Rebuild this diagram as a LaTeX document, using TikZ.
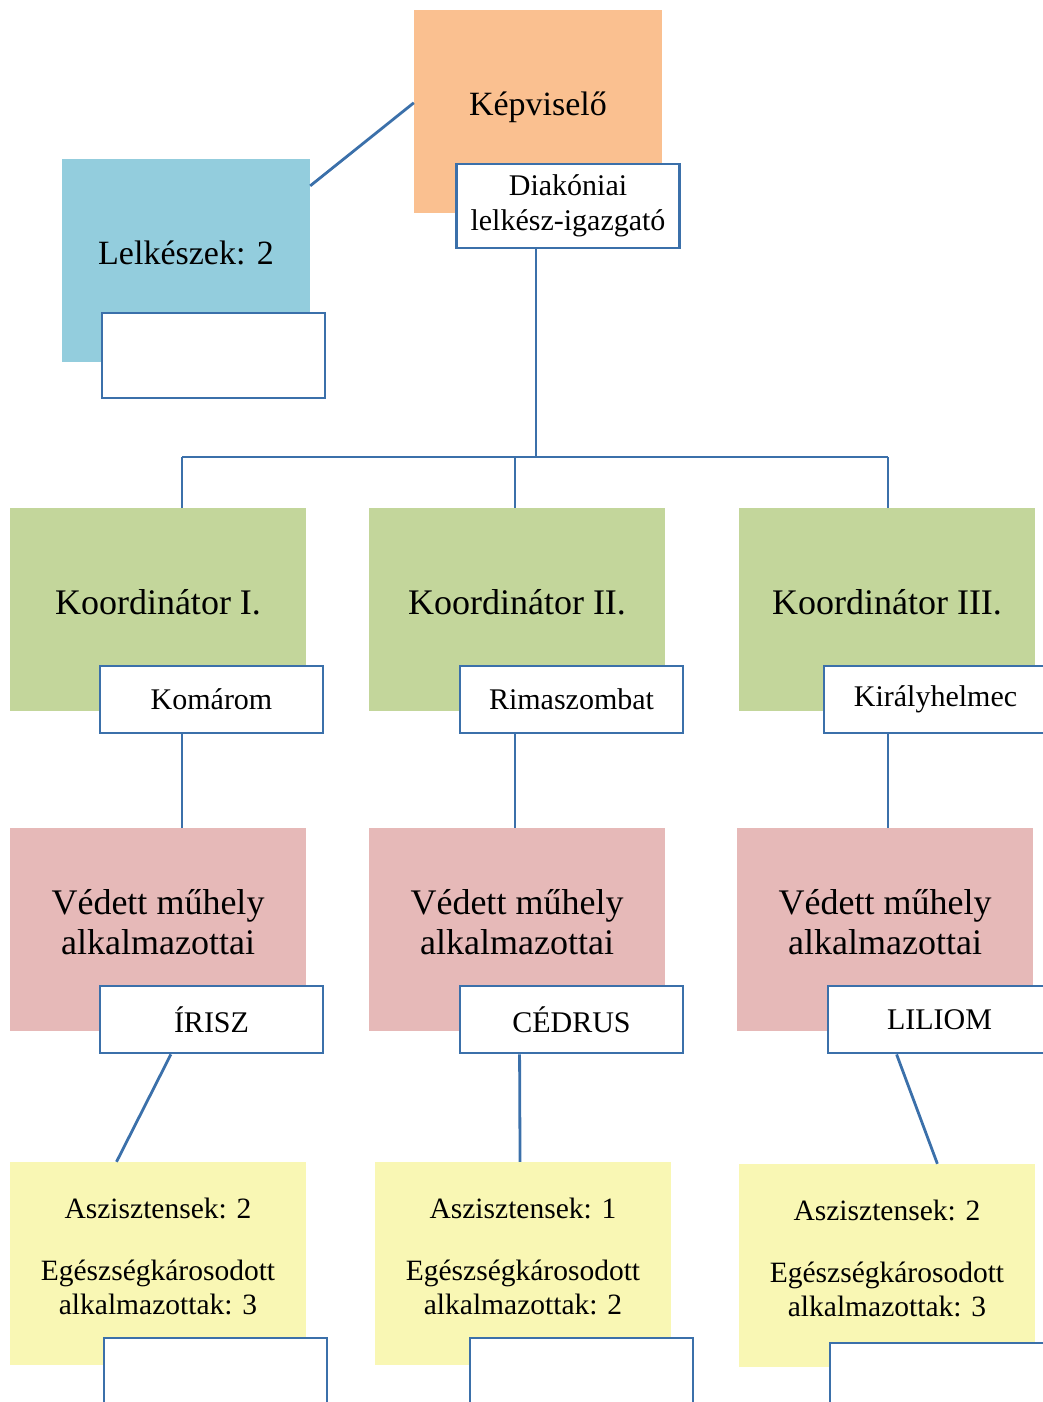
\documentclass[tikz,border=0pt]{standalone}
\usepackage{fontspec}
\setmainfont{Liberation Serif}
\usetikzlibrary{calc}
\definecolor{rep}{HTML}{FAC090}
\definecolor{pastor}{HTML}{93CDDD}
\definecolor{coord}{HTML}{C3D69B}
\definecolor{shop}{HTML}{E6B9B8}
\definecolor{staff}{HTML}{F9F7B4}
\definecolor{edge}{HTML}{3B70AA}
\begin{document}
\begin{tikzpicture}[x=1pt,y=-1pt,
    box/.style={inner sep=0pt,minimum width=296pt,minimum height=203pt,align=center,
      font=\fontsize{36}{40}\selectfont},
    lift/.style={text height=22pt,text depth=#1},
    tag/.style={draw=edge,line width=2.8pt,fill=white,inner sep=0pt,minimum width=223pt,
      minimum height=67pt,align=center,font=\fontsize{30}{35}\selectfont},
    link/.style={draw=edge,line width=2.8pt}] %Szervezeti felépítés
    \useasboundingbox (0,0) rectangle (1043,1402);

    % felső szint
    \node[box,lift=14.5pt,fill=rep,minimum width=248pt,font=\fontsize{34}{40}\selectfont] (kep) at (538,111.5) {Képviselő};
    \node[box,lift=14.5pt,fill=pastor,minimum width=248pt,font=\fontsize{34}{40}\selectfont] (lelk) at (186,260.5) {Lelkészek: 2};
    \draw[link] (lelk.31) -- (kep.176);
    \node[tag,minimum height=84pt] (diak) at (568,206) {Diakóniai\\lelkész-igazgató};
    \node[tag,minimum height=85pt] (lelkt) at (213.5,355.5) {};

    % koordinátorok
    \node[box,lift=13pt,fill=coord] (k1) at (158,609.5) {Koordinátor I.};
    \node[box,lift=13pt,fill=coord] (k2) at (517,609.5) {Koordinátor II.};
    \node[box,lift=13pt,fill=coord] (k3) at (887,609.5) {Koordinátor III.};

    \coordinate (hub) at (536,457);
    \coordinate (b1) at (182,457);
    \coordinate (b2) at (515,457);
    \coordinate (b3) at (888,457);
    \draw[link] (diak.south -| hub) -- (hub);
    \draw[link] (b1) -- (b3);
    \draw[link] (b1) -- (b1 |- k1.north);
    \draw[link] (b2) -- (b2 |- k2.north);
    \draw[link] (b3) -- (b3 |- k3.north);

    \node[tag] (t1) at (211.5,699.5) {Komárom};
    \node[tag] (t2) at (571.5,699.5) {Rimaszombat};
    \node[tag] (t3) at (935.5,699.5) {Királyhelmec};

    % védett műhelyek
    \node[box,fill=shop] (v1) at (158,929.5) {Védett műhely\\alkalmazottai\\[-24pt]\mbox{}};
    \node[box,fill=shop] (v2) at (517,929.5) {Védett műhely\\alkalmazottai\\[-24pt]\mbox{}};
    \node[box,fill=shop] (v3) at (885,929.5) {Védett műhely\\alkalmazottai\\[-24pt]\mbox{}};

    \draw[link] (t1.south -| b1) -- (b1 |- v1.north);
    \draw[link] (t2.south -| b2) -- (b2 |- v2.north);
    \draw[link] (t3.south -| b3) -- (b3 |- v3.north);

    \node[tag] (w1) at (211.5,1019.5) {ÍRISZ};
    \node[tag] (w2) at (571.5,1019.5) {CÉDRUS};
    \node[tag] (w3) at (939.5,1019.5) {LILIOM};

    % alkalmazottak
    \tikzset{box/.append style={font=\fontsize{29.5}{34}\selectfont}}
    \node[box,fill=staff] (a1) at (158,1263.5)
      {Aszisztensek: 2\\[28pt]Egészségkárosodott\\alkalmazottak: 3\\[-20pt]\mbox{}};
    \node[box,fill=staff] (a2) at (523,1263.5)
      {Aszisztensek: 1\\[28pt]Egészségkárosodott\\alkalmazottak: 2\\[-20pt]\mbox{}};
    \node[box,fill=staff] (a3) at (887,1265.5)
      {Aszisztensek: 2\\[28pt]Egészségkárosodott\\alkalmazottak: 3\\[-20pt]\mbox{}};

    \draw[link] ($(w1.south west)!0.32!(w1.south east)$) -- ($(a1.north west)!0.36!(a1.north east)$);
    \draw[link] ($(w2.south west)!0.27!(w2.south east)$) -- ($(a2.north west)!0.49!(a2.north east)$);
    \draw[link] ($(w3.south west)!0.31!(w3.south east)$) -- ($(a3.north west)!0.67!(a3.north east)$);

    \node[tag] (u1) at (215.5,1371.5) {};
    \node[tag] (u2) at (581.5,1371.5) {};
    \node[tag] (u3) at (941.5,1376.5) {};
\end{tikzpicture}
\end{document}
